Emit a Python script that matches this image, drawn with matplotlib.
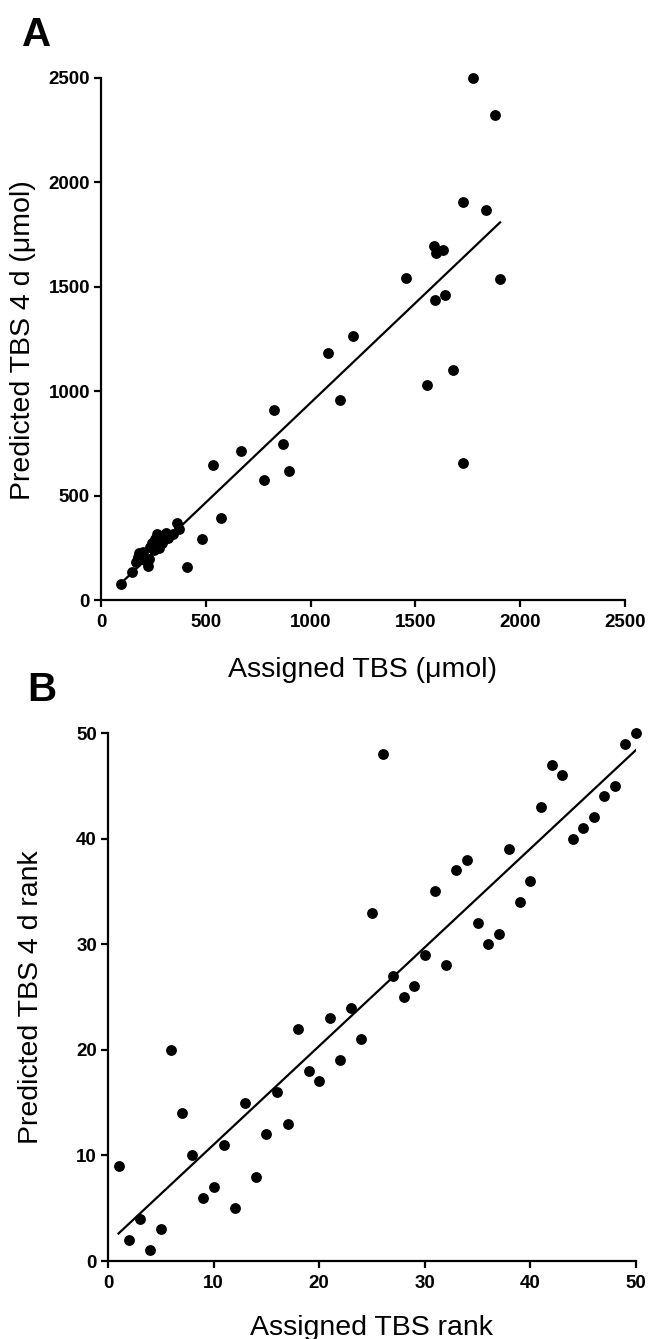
import numpy as np
import matplotlib
matplotlib.use("Agg")
import matplotlib.pyplot as plt

plt.rcParams['font.family'] = ['Liberation Sans', 'DejaVu Sans']

# Panel A data: assigned vs predicted TBS (µmol)
assigned_tbs = [95, 146, 166, 175, 183, 202, 210, 226, 229, 236, 242, 252, 260, 269,
                275, 282, 290, 295, 310, 318, 330, 345, 364, 372, 409, 480, 533, 574,
                669, 779, 825, 867, 895, 1082, 1142, 1204, 1457, 1554, 1589, 1592,
                1597, 1634, 1640, 1681, 1729, 1729, 1775, 1838, 1880, 1904]
predicted_tbs = [77, 133, 184, 205, 223, 231, 190, 163, 196, 255, 271, 240, 290, 316,
                 250, 263, 275, 285, 319, 295, 310, 315, 367, 339, 158, 291, 647, 391,
                 715, 575, 910, 749, 618, 1183, 956, 1263, 1544, 1028, 1697, 1437,
                 1660, 1676, 1461, 1102, 1908, 658, 2500, 1869, 2321, 1536]

# Panel B data: ranks
assigned_rank = list(range(1, 51))
predicted_rank = [9, 2, 4, 1, 3, 20, 14, 10, 6, 7, 11, 5, 15, 8, 12, 16, 13, 22, 18, 17,
                  23, 19, 24, 21, 33, 48, 27, 25, 26, 29, 35, 28, 37, 38, 32, 30, 31, 39,
                  34, 36, 43, 47, 46, 40, 41, 42, 44, 45, 49, 50]

ticksA = [0, 500, 1000, 1500, 2000, 2500]
ticksB = [0, 10, 20, 30, 40, 50]

W, H = 651, 1339
fig = plt.figure(figsize=(W / 100, H / 100), dpi=100)

LABEL_FS = 20.5

def style(ax):
    for s in ['top', 'right']:
        ax.spines[s].set_visible(False)
    for s in ['left', 'bottom']:
        ax.spines[s].set_linewidth(1.6)
        ax.spines[s].set_color('black')
    ax.tick_params(direction='out', length=5, width=1.6, labelsize=13.5)
    ax.tick_params(axis='x', pad=5)
    ax.tick_params(axis='y', pad=3)
    for lab in ax.get_xticklabels() + ax.get_yticklabels():
        lab.set_fontweight('bold')

def panel(ax, x, y, ticks, lim):
    x = np.asarray(x, float)
    y = np.asarray(y, float)
    ax.plot(x, y, 'o', color='black', markersize=7.8, markeredgewidth=0, clip_on=False, zorder=3)
    m, b = np.polyfit(x, y, 1)
    xs = np.array([x.min(), x.max()])
    ax.plot(xs, m * xs + b, color='black', lw=1.6, zorder=2)
    ax.set_xlim(lim)
    ax.set_ylim(lim)
    ax.set_xticks(ticks)
    ax.set_yticks(ticks)
    style(ax)

axA = fig.add_axes([101 / W, 1 - 600 / H, 524 / W, 522 / H])
panel(axA, assigned_tbs, predicted_tbs, ticksA, (0, 2500))

axB = fig.add_axes([108 / W, 1 - 1261 / H, 528 / W, 528 / H])
panel(axB, assigned_rank, predicted_rank, ticksB, (0, 50))

# axis titles
fig.text(363 / W, 1 - 677 / H, 'Assigned TBS (\u03bcmol)', fontsize=LABEL_FS,
         ha='center', va='baseline')
fig.text(23 / W, 1 - 340 / H, 'Predicted TBS 4 d (\u03bcmol)', fontsize=LABEL_FS,
         ha='center', va='center', rotation=90)
fig.text(372 / W, 1 - 1335 / H, 'Assigned TBS rank', fontsize=LABEL_FS,
         ha='center', va='baseline')
fig.text(31 / W, 1 - 997 / H, 'Predicted TBS 4 d rank', fontsize=LABEL_FS,
         ha='center', va='center', rotation=90)

# panel letters
fig.text(22 / W, 1 - 46 / H, 'A', fontsize=29, fontweight='bold', ha='left', va='baseline')
fig.text(27 / W, 1 - 701 / H, 'B', fontsize=29, fontweight='bold', ha='left', va='baseline')

fig.savefig('out.png', dpi=100)
